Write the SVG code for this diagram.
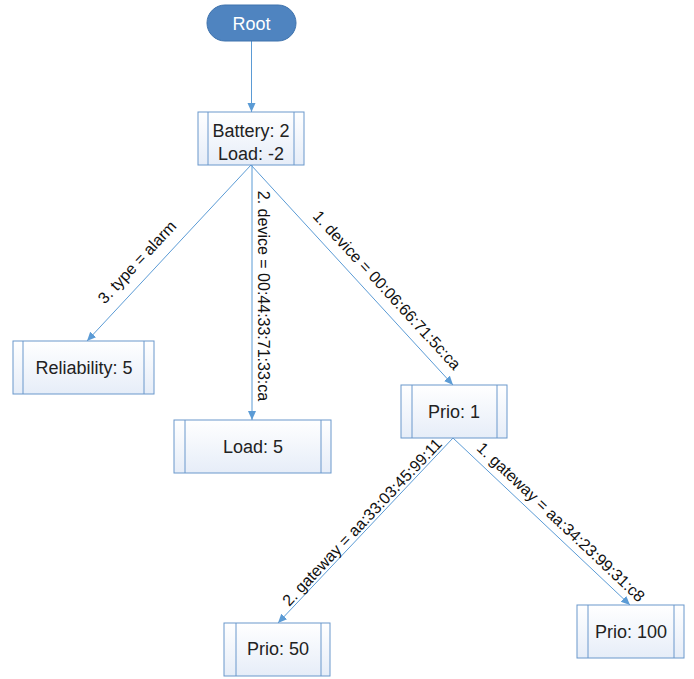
<svg xmlns="http://www.w3.org/2000/svg" width="694" height="679" viewBox="0 0 694 679">
<defs>
<linearGradient id="bg" x1="0" y1="0" x2="0" y2="1">
<stop offset="0" stop-color="#ffffff"/>
<stop offset="1" stop-color="#e6edf8"/>
</linearGradient>
<marker id="arr" markerWidth="10" markerHeight="10" refX="9" refY="5" orient="auto" markerUnits="userSpaceOnUse">
<path d="M0,1 L9,5 L0,9 Z" fill="#5b9bd5"/>
</marker>
</defs>
<style>
.box{fill:url(#bg);stroke:#6a98cc;stroke-width:1}
.inner{stroke:#6a98cc;stroke-width:1}
.t{font-family:"Liberation Sans",Arial,sans-serif;font-size:18px;fill:#222;text-anchor:middle}
.e{font-family:"Liberation Sans",Arial,sans-serif;font-size:16px;fill:#111;text-anchor:middle}
.c{stroke:#5b9bd5;stroke-width:1;fill:none;marker-end:url(#arr)}
</style>
<rect width="694" height="679" fill="#ffffff"/>
<g id="connectors">
<line class="c" x1="251.5" y1="41" x2="251.5" y2="112"/>
<line class="c" x1="251" y1="165" x2="87" y2="341"/>
<line class="c" x1="252" y1="165" x2="252" y2="420"/>
<line class="c" x1="251" y1="165" x2="453" y2="385"/>
<line class="c" x1="453" y1="438" x2="278" y2="623"/>
<line class="c" x1="453" y1="438" x2="630" y2="605"/>
<text class="e" transform="translate(137,262) rotate(-47)" dy="0.35em">3. type = alarm</text>
<text class="e" transform="translate(264,296) rotate(90)" dy="0.35em">2. device = 00:44:33:71:33:ca</text>
<text class="e" transform="translate(387,290) rotate(47.4)" dy="0.35em">1. device = 00:06:66:71:5c:ca</text>
<text class="e" transform="translate(362,522) rotate(-46.6)" dy="0.35em">2. gateway = aa:33:03:45:99:11</text>
<text class="e" transform="translate(561,522) rotate(43.3)" dy="0.35em">1. gateway = aa:34:23:99:31:c8</text>
</g>
<g id="root">
<rect x="207" y="5" width="89" height="36" rx="18" fill="#4f84c0" stroke="#3f73ad"/>
<text class="t" x="251.5" y="29.5" fill="#ffffff" style="fill:#ffffff">Root</text>
</g>
<g id="battery">
<rect class="box" x="198" y="112" width="106" height="53"/>
<line class="inner" x1="208" y1="112" x2="208" y2="165"/>
<line class="inner" x1="294" y1="112" x2="294" y2="165"/>
<text class="t" x="251" y="137">Battery: 2</text>
<text class="t" x="251" y="160">Load: -2</text>
</g>
<g id="reliability">
<rect class="box" x="13" y="341" width="141" height="53"/>
<line class="inner" x1="23" y1="341" x2="23" y2="394"/>
<line class="inner" x1="144" y1="341" x2="144" y2="394"/>
<text class="t" x="84" y="374">Reliability: 5</text>
</g>
<g id="load5">
<rect class="box" x="174" y="420" width="157" height="53"/>
<line class="inner" x1="185" y1="420" x2="185" y2="473"/>
<line class="inner" x1="321" y1="420" x2="321" y2="473"/>
<text class="t" x="253" y="453">Load: 5</text>
</g>
<g id="prio1">
<rect class="box" x="401" y="385" width="106" height="53"/>
<line class="inner" x1="412" y1="385" x2="412" y2="438"/>
<line class="inner" x1="497" y1="385" x2="497" y2="438"/>
<text class="t" x="454" y="418">Prio: 1</text>
</g>
<g id="prio50">
<rect class="box" x="224" y="623" width="106" height="53"/>
<line class="inner" x1="236" y1="623" x2="236" y2="676"/>
<line class="inner" x1="321" y1="623" x2="321" y2="676"/>
<text class="t" x="278" y="655">Prio: 50</text>
</g>
<g id="prio100">
<rect class="box" x="577" y="605" width="107" height="53"/>
<line class="inner" x1="588" y1="605" x2="588" y2="658"/>
<line class="inner" x1="674" y1="605" x2="674" y2="658"/>
<text class="t" x="631" y="638">Prio: 100</text>
</g>
</svg>
